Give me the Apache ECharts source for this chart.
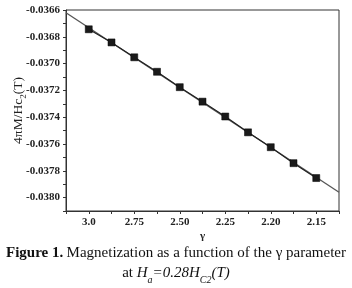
<!DOCTYPE html>
<html><head><meta charset="utf-8">
<script src="https://cdn.jsdelivr.net/npm/echarts@6/dist/echarts.min.js"></script>
<style>html,body{margin:0;padding:0;background:#fff}#c{width:352px;height:288px}</style>
</head><body><div id="c"></div>
<script>
// tick labels of the gamma axis (evenly spaced in the original)
const gammaLabels = ['3.0', '2.75', '2.50', '2.25', '2.20', '2.15'];
// position of each measured point along the gamma axis (label index units)
const pointPos = [0, 0.5, 1, 1.5, 2, 2.5, 3, 3.5, 4, 4.5, 5];
// 4πM/Hc2(T) values
const magValues = [-0.036744, -0.036842, -0.036953, -0.037061, -0.037176, -0.037284,
                   -0.037395, -0.037513, -0.037624, -0.037743, -0.037854];
// linear fit end points
const fitPos = [-0.5, 5.5];
const fitValues = [-0.03662, -0.03796];

const serif = 'Liberation Serif';
const chart = echarts.init(document.getElementById('c'), null, {renderer: 'canvas'});
chart.setOption({
  animation: false,
  backgroundColor: '#fff',
  grid: {left: 66, right: 13, top: 10, bottom: 77, outerBoundsMode: 'none', containLabel: false,
         show: true, borderColor: '#333', borderWidth: 1, backgroundColor: 'transparent'},
  xAxis: {
    type: 'value', min: -0.5, max: 5.5, interval: 0.5,
    name: 'γ', nameLocation: 'middle', nameGap: 20, nameMoveOverlap: false,
    nameTextStyle: {fontFamily: serif, fontWeight: 'bold', fontSize: 11, color: '#222'},
    axisLine: {onZero: false, lineStyle: {color: '#333', width: 1}},
    axisTick: {show: true, inside: false, length: 3, lineStyle: {color: '#333'}},
    splitLine: {show: false},
    axisLabel: {
      fontFamily: serif, fontWeight: 'bold', fontSize: 11, color: '#222', margin: 6,
      showMinLabel: true, showMaxLabel: true,
      formatter: function (v) {
        const r = Math.round(v * 2);
        if (r % 2 !== 0) return '';
        const i = r / 2;
        return (i >= 0 && i < gammaLabels.length) ? gammaLabels[i] : '';
      }
    }
  },
  yAxis: {
    type: 'value', min: -0.0381, max: -0.0366, interval: 0.0001,
    name: '{n|4πM/Hc}{s|2}{n|(T)}', nameLocation: 'middle', nameGap: 38, nameRotate: 90,
    nameMoveOverlap: false,
    nameTextStyle: {fontFamily: serif, fontSize: 13.5, color: '#222',
      rich: {
        n: {fontFamily: serif, fontSize: 13.5, color: '#222', lineHeight: 17, verticalAlign: 'top'},
        s: {fontFamily: serif, fontSize: 9, color: '#222', lineHeight: 17, verticalAlign: 'bottom'}
      }},
    axisLine: {show: true, onZero: false, lineStyle: {color: '#333', width: 1}},
    axisTick: {show: true, inside: false, length: 3, lineStyle: {color: '#333'}},
    splitLine: {show: false},
    axisLabel: {
      fontFamily: serif, fontWeight: 'bold', fontSize: 11, color: '#222', margin: 6,
      formatter: function (v) {
        const r = Math.round(Math.abs(v) * 10000);
        if (r % 2 !== 0) return '';
        return v.toFixed(4);
      }
    }
  },
  series: [
    {
      type: 'line', data: fitPos.map((x, i) => [x, fitValues[i]]),
      showSymbol: false, symbol: 'none', lineStyle: {color: '#555', width: 1.3}, z: 2
    },
    {
      type: 'line', data: pointPos.map((x, i) => [x, magValues[i]]),
      symbol: 'rect', symbolSize: 7, itemStyle: {color: '#1a1a1a', borderColor: '#000', borderWidth: 0.5},
      lineStyle: {color: '#222', width: 1.2}, z: 3
    }
  ],
  graphic: [
    {
      type: 'text', left: 'center', top: 246,
      style: {
        text: '{b|Figure 1.} {n|Magnetization as a function of the γ parameter}',
        rich: {
          b: {fontFamily: serif, fontWeight: 'bold', fontSize: 15, fill: '#111'},
          n: {fontFamily: serif, fontSize: 15, fill: '#111'}
        }
      }
    },
    {
      type: 'text', left: 'center', top: 266,
      style: {
        text: '{n|at }{i|H}{s|a}{i|=0.28H}{s|C2}{i|(T)}',
        rich: {
          n: {fontFamily: serif, fontSize: 15, fill: '#111', lineHeight: 19, verticalAlign: 'top'},
          i: {fontFamily: serif, fontStyle: 'italic', fontSize: 15, fill: '#111', lineHeight: 19, verticalAlign: 'top'},
          s: {fontFamily: serif, fontStyle: 'italic', fontSize: 10, fill: '#111', lineHeight: 19, verticalAlign: 'bottom'}
        }
      }
    }
  ]
});
</script>
</body></html>
